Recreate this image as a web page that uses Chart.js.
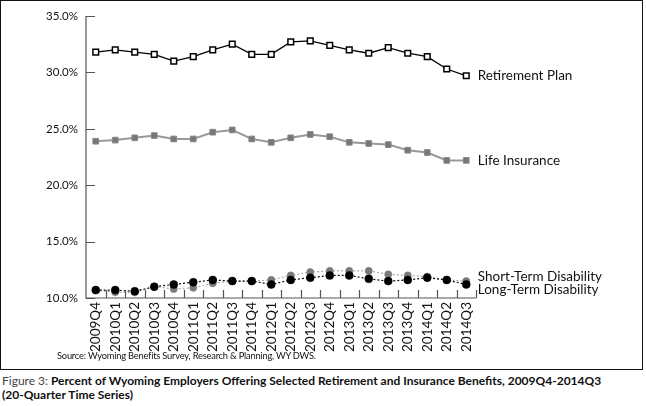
<!DOCTYPE html>
<html>
<head>
<meta charset="utf-8">
<script src="https://cdn.jsdelivr.net/npm/chart.js@4"></script>
<style>
body{margin:0;background:#fff;font-family:Lato,"Open Sans",sans-serif}
#frame{position:absolute;left:0;top:0;width:641px;height:368px;border:1.5px solid #111}
#wrap{position:absolute;left:0;top:0;width:646px;height:372px}
#source{position:absolute;left:57px;top:350px;font-size:9.3px;color:#111;letter-spacing:-0.2px;white-space:nowrap}
#caption{position:absolute;left:2px;top:374px;font-size:12px;line-height:14px;font-weight:bold;color:#111;white-space:nowrap}
#caption span{font-weight:normal;color:#444}
</style>
</head>
<body>
<div id="frame"></div>
<div id="wrap"><canvas id="chart" width="646" height="372"></canvas></div>
<div id="source">Source: Wyoming Benefits Survey, Research &amp; Planning, WY DWS.</div>
<div id="caption"><span>Figure 3:</span> Percent of Wyoming Employers Offering Selected Retirement and Insurance Benefits, 2009Q4-2014Q3<br>(20-Quarter Time Series)</div>
<script>
const quarters=["2009Q4","2010Q1","2010Q2","2010Q3","2010Q4","2011Q1","2011Q2","2011Q3","2011Q4","2012Q1","2012Q2","2012Q3","2012Q4","2013Q1","2013Q2","2013Q3","2013Q4","2014Q1","2014Q2","2014Q3"]

const retirement=[31.8,32.0,31.8,31.6,31.0,31.4,32.0,32.5,31.6,31.6,32.7,32.8,32.4,32.0,31.7,32.2,31.7,31.4,30.3,29.7]
const lifeIns=[23.9,24.0,24.2,24.4,24.1,24.1,24.7,24.9,24.1,23.8,24.2,24.5,24.3,23.8,23.7,23.6,23.1,22.9,22.2,22.2]
const shortTerm=[10.7,10.5,10.5,11.0,10.8,10.9,11.3,11.5,11.5,11.6,12.0,12.3,12.4,12.4,12.4,12.1,12.0,11.9,11.6,11.5]
const longTerm=[10.7,10.7,10.6,11.0,11.2,11.4,11.6,11.5,11.5,11.2,11.6,11.8,12.0,12.0,11.7,11.5,11.6,11.8,11.6,11.2]

const yTicks=[10,15,20,25,30,35]

// label offsets (px) next to last point
const labelShift={"Retirement Plan":0,"Life Insurance":0,"Short-Term Disability":-4,"Long-Term Disability":5}

const FONT="Lato"

const axisTicks={
id:"axisTicks",
afterDraw(chart){
const c=chart.ctx, x=chart.scales.x, y=chart.scales.y
c.save()
c.strokeStyle="#555"
c.lineWidth=1.2
c.beginPath()
c.moveTo(x.left,y.top); c.lineTo(x.left,y.bottom); c.lineTo(x.right,y.bottom)
yTicks.forEach(v=>{
const py=Math.round(y.getPixelForValue(v))+0.5
c.moveTo(x.left,py); c.lineTo(x.left+9,py)
})
const n=quarters.length, step=x.width/n
for(let k=1;k<=n;k++){
const px=Math.round(x.left+k*step)+0.5
c.moveTo(px,y.bottom); c.lineTo(px,y.bottom-8)
}
c.stroke()
c.restore()
}
}

const endLabels={
id:"endLabels",
afterDatasetsDraw(chart){
const c=chart.ctx
c.save()
c.font="13.5px "+FONT
c.fillStyle="#111"
c.textBaseline="middle"
chart.data.datasets.forEach((ds,i)=>{
const pt=chart.getDatasetMeta(i).data[ds.data.length-1]
c.fillText(ds.label,pt.x+11.5,pt.y+(labelShift[ds.label]||0))
})
c.restore()
}
}

new Chart(document.getElementById("chart"),{
type:"line",
data:{
labels:quarters,
datasets:[
{label:"Retirement Plan",data:retirement,borderColor:"#000",borderWidth:1.3,pointStyle:"rect",pointRadius:4,pointBackgroundColor:"#fff",pointBorderColor:"#000",pointBorderWidth:1.5},
{label:"Life Insurance",data:lifeIns,borderColor:"#999",borderWidth:2,pointStyle:"rect",pointRadius:4,pointBackgroundColor:"#777",pointBorderColor:"#888",pointBorderWidth:1},
{label:"Long-Term Disability",data:longTerm,borderColor:"#111",borderWidth:1.2,borderDash:[2,2],pointRadius:4,pointBackgroundColor:"#000",pointBorderColor:"#000",pointBorderWidth:0.5},
{label:"Short-Term Disability",data:shortTerm,borderColor:"#aaa",borderWidth:1.2,borderDash:[2,2],pointRadius:3.6,pointBackgroundColor:"#7a7a7a",pointBorderColor:"#7a7a7a",pointBorderWidth:0.5}
]
},
options:{
responsive:false,
animation:false,
layout:{padding:{left:0,right:170,top:16,bottom:0}},
plugins:{legend:{display:false},tooltip:{enabled:false}},
elements:{line:{tension:0}},
scales:{
x:{
offset:true,
grid:{display:false,drawTicks:false,offset:true},
border:{display:false},
ticks:{autoSkip:false,minRotation:90,maxRotation:90,padding:4,color:"#111",font:{family:"'Liberation Sans Narrow', Lato",size:13.5}},
afterFit(s){s.height=372-298}
},
y:{
min:10,max:35,
grid:{display:false,drawTicks:false},
border:{display:false},
afterBuildTicks(s){s.ticks=yTicks.map(v=>({value:v}))},
ticks:{padding:8,color:"#111",font:{family:FONT,size:11.5},callback:v=>v.toFixed(1)+"%"},
afterFit(s){s.width=86}
}
}
},
plugins:[axisTicks,endLabels]
})
</script>
</body>
</html>
